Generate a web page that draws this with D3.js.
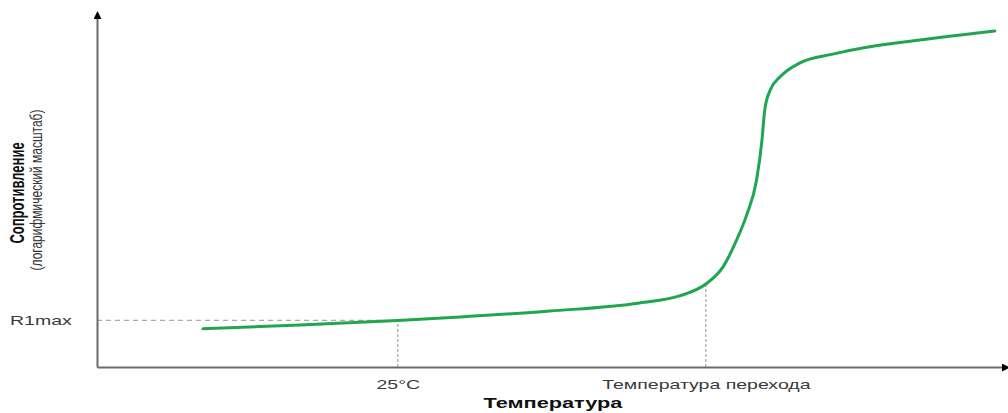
<!DOCTYPE html>
<html>
<head>
<meta charset="utf-8">
<script src="https://cdn.jsdelivr.net/npm/d3@7"></script>
<style>
  html, body { margin: 0; padding: 0; background: #ffffff; }
  svg { display: block; }
  text { font-family: "Liberation Sans", Arial, sans-serif; }
</style>
</head>
<body>
<svg id="chart" width="1008" height="413"></svg>
<script>
// PTC thermistor: resistance (log scale) versus temperature, schematic units
const temperature = [11.7, 22.4, 33.2, 40.1, 50.0, 59.9, 64.3, 67.2, 69.1, 70.6, 71.7,
                     72.8, 73.4, 73.7, 74.3, 75.4, 77.6, 81.2, 84.8, 88.6, 99.1];
const resistance  = [10.9, 12.0, 13.3, 14.3, 16.0, 18.3, 20.3, 23.7, 28.6, 36.3, 43.4,
                     53.4, 64.9, 73.4, 79.1, 82.9, 86.9, 89.4, 91.3, 92.7, 96.0];

// Reference points marked on the axes
const T_25C = 33.2;
const T_TRANSITION = 67.2;
const R1MAX = 13.3;
const xTickValues = [T_25C, T_TRANSITION];
const xTickLabels = ["25°C", "Температура перехода"];
const yTickValues = [R1MAX];
const yTickLabels = ["R1max"];

const svg = d3.select("#chart");
const origin = { x: 97, y: 367 };

const x = d3.scaleLinear().domain([0, 100]).range([origin.x, 1003]);
const y = d3.scaleLinear().domain([0, 100]).range([origin.y, 17]);

const axisColor = "#6b6b6b";
const guideColor = "#a9a9a9";
const lineColor = "#1fa64f";

// Arrowheads for the axes
const defs = svg.append("defs");
defs.append("marker")
  .attr("id", "arrow")
  .attr("viewBox", "0 0 10 10")
  .attr("refX", 2).attr("refY", 5)
  .attr("markerWidth", 8).attr("markerHeight", 8)
  .attr("markerUnits", "userSpaceOnUse")
  .attr("orient", "auto")
  .append("path")
  .attr("d", "M0,0 L10,5 L0,10 Z")
  .attr("fill", "#000");

// Guide lines: R1max level and the two marked temperatures
const rAt25 = R1MAX;
const rAtTransition = resistance[temperature.indexOf(T_TRANSITION)];

svg.append("line")
  .attr("x1", x(0)).attr("x2", x(T_25C))
  .attr("y1", y(R1MAX)).attr("y2", y(R1MAX))
  .attr("stroke", guideColor).attr("stroke-width", 1.3)
  .attr("stroke-dasharray", "5,4");

svg.append("line")
  .attr("x1", x(T_25C)).attr("x2", x(T_25C))
  .attr("y1", y(0)).attr("y2", y(rAt25))
  .attr("stroke", guideColor).attr("stroke-width", 1.3)
  .attr("stroke-dasharray", "3,2");

svg.append("line")
  .attr("x1", x(T_TRANSITION)).attr("x2", x(T_TRANSITION))
  .attr("y1", y(0)).attr("y2", y(rAtTransition))
  .attr("stroke", guideColor).attr("stroke-width", 1.3)
  .attr("stroke-dasharray", "3,2");

// Axes
const xAxis = d3.axisBottom(x)
  .tickValues(xTickValues)
  .tickFormat((d, i) => xTickLabels[i])
  .tickSize(0).tickPadding(13);

const gx = svg.append("g")
  .attr("transform", `translate(0,${origin.y})`)
  .call(xAxis);

const yAxis = d3.axisLeft(y)
  .tickValues(yTickValues)
  .tickFormat((d, i) => yTickLabels[i])
  .tickSize(0).tickPadding(24);

const gy = svg.append("g")
  .attr("transform", `translate(${origin.x},0)`)
  .call(yAxis);

[gx, gy].forEach(g => {
  g.select(".domain")
    .attr("stroke", axisColor)
    .attr("stroke-width", 2)
    .attr("marker-end", "url(#arrow)");
  g.selectAll(".tick text")
    .attr("fill", "#3a3a3a")
    .attr("font-size", 13)
    .attr("font-family", "'Liberation Sans', Arial, sans-serif");
});

// Wide lettering for the tick labels
gx.selectAll(".tick text").each(function () {
  const t = d3.select(this);
  const w = this.getComputedTextLength();
  t.attr("textLength", w * 1.5).attr("lengthAdjust", "spacingAndGlyphs");
});
gy.selectAll(".tick text").each(function () {
  const t = d3.select(this);
  const w = this.getComputedTextLength();
  t.attr("textLength", w * 1.5).attr("lengthAdjust", "spacingAndGlyphs")
    .attr("text-anchor", "start").attr("x", -origin.x + 10);
});

// Resistance curve
const line = d3.line()
  .x((d, i) => x(temperature[i]))
  .y(d => y(d))
  .curve(d3.curveMonotoneX);

svg.append("path")
  .datum(resistance)
  .attr("d", line)
  .attr("fill", "none")
  .attr("stroke", lineColor)
  .attr("stroke-width", 3)
  .attr("stroke-linecap", "round");

// Axis titles
const xTitle = svg.append("text")
  .attr("x", 553).attr("y", 408)
  .attr("text-anchor", "middle")
  .attr("font-size", 14).attr("font-weight", "bold")
  .attr("fill", "#111")
  .text("Температура");
xTitle.attr("textLength", xTitle.node().getComputedTextLength() * 1.55)
  .attr("lengthAdjust", "spacingAndGlyphs");

svg.append("text")
  .attr("transform", "translate(24,193) scale(1.5,1) rotate(-90)")
  .attr("text-anchor", "middle")
  .attr("font-size", 13).attr("font-weight", "bold")
  .attr("fill", "#111")
  .text("Сопротивление");

svg.append("text")
  .attr("transform", "translate(42,190) scale(1.4,1) rotate(-90)")
  .attr("text-anchor", "middle")
  .attr("font-size", 12)
  .attr("fill", "#333")
  .text("(логарифмический масштаб)");
</script>
</body>
</html>
